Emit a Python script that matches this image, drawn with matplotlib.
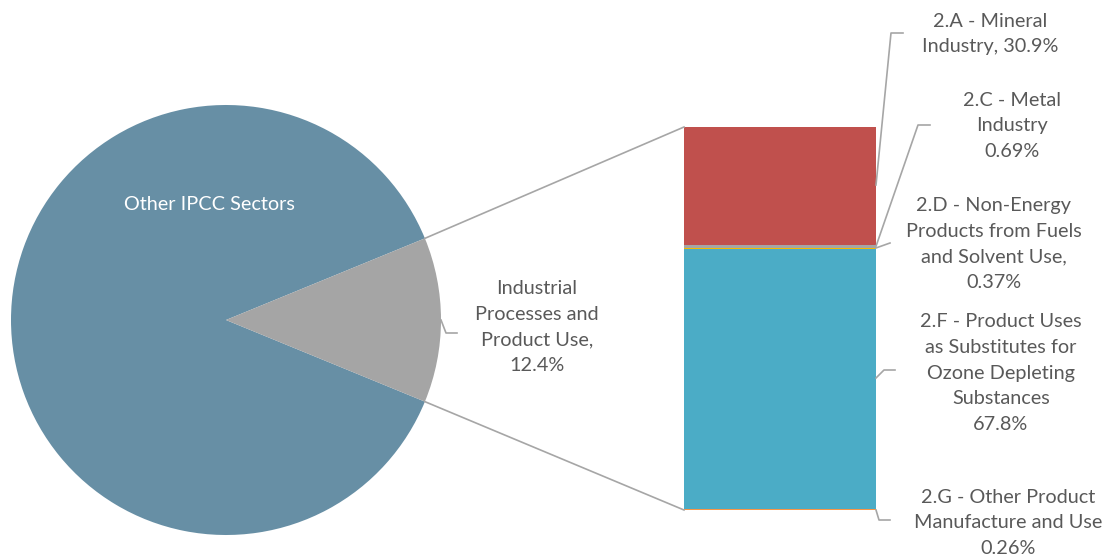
import numpy as np
import matplotlib
matplotlib.use("Agg")
import matplotlib.pyplot as plt

plt.rcParams['font.family'] = ['Lato', 'DejaVu Sans']

# pie: share of total
pie_labels = ["Other IPCC Sectors", "Industrial\nProcesses and\nProduct Use,\n12.4%"]
pie_values = [87.6, 12.4]
pie_colors = ["#678FA5", "#A5A5A5"]

# bar: breakdown of IPPU (top to bottom)
sub_labels = ["2.A - Mineral\nIndustry, 30.9%",
              "2.C - Metal\nIndustry\n0.69%",
              "2.D - Non-Energy\nProducts from Fuels\nand Solvent Use,\n0.37%",
              "2.F - Product Uses\nas Substitutes for\nOzone Depleting\nSubstances\n67.8%",
              "2.G - Other Product\nManufacture and Use\n0.26%"]
sub_values = [30.9, 0.69, 0.37, 67.8, 0.26]
sub_colors = ["#C0504D", "#A5A5A5", "#F5B800", "#4BACC6", "#F79646"]

W, H = 1120, 557
fig = plt.figure(figsize=(W / 100, H / 100), dpi=100)
ax = fig.add_axes([0, 0, 1, 1])

txt = "#595959"
lc = "#A6A6A6"
fs = 14.3
ls = 1.62

# pie
cx, cy, r = 226, 320, 215
half = pie_values[1] * 3.6 / 2
ax.pie(pie_values, colors=pie_colors, center=(cx, cy), radius=r,
       startangle=-half - pie_values[0] * 3.6 + 360, counterclock=True,
       wedgeprops=dict(linewidth=0), frame=True)
ax.set_xlim(0, W)
ax.set_ylim(H, 0)
ax.set_aspect('equal')
ax.axis('off')
ax.text(209, 205, pie_labels[0], color="white", fontsize=fs, ha='center', va='center')
ax.text(537, 327, pie_labels[1], color=txt, fontsize=fs, ha='center', va='center',
        linespacing=ls)
ax.plot([cx + r, 446, 457], [cy, 333, 333], color=lc, lw=1.2)

# bar
bx0, bx1, top, bh = 684, 876, 127, 383
scale = bh / sum(sub_values)
bottoms = top + np.concatenate([[0], np.cumsum(sub_values)[:-1]]) * scale
ax.bar([(bx0 + bx1) / 2] * len(sub_values), np.array(sub_values) * scale,
       bottom=bottoms, width=bx1 - bx0, color=sub_colors, linewidth=0)

# connectors pie -> bar
a = np.radians(half)
px, py = cx + r * np.cos(a), r * np.sin(a)
ax.plot([px, bx0], [cy - py, top], color=lc, lw=1.2)
ax.plot([px, bx0], [cy + py, top + bh], color=lc, lw=1.2)

# labels with leaders
label_xy = [(990, 34), (1012, 126), (994, 244), (1001, 373), (1008, 523)]
leaders = [([bx1, 891, 903], [185, 33, 33]),
           ([bx1, 918, 930], [bottoms[1] + 1, 125, 125]),
           ([bx1, 890], [bottoms[2], 243]),
           ([bx1, 884, 895], [378, 370, 370]),
           ([bx1, 879, 890], [top + bh, 520, 520])]
for lab, (tx, ty), (lx, ly) in zip(sub_labels, label_xy, leaders):
    ax.text(tx, ty, lab, color=txt, fontsize=fs, ha='center', va='center', linespacing=ls)
    ax.plot(lx, ly, color=lc, lw=1.2)

fig.savefig("out.png", dpi=100)
